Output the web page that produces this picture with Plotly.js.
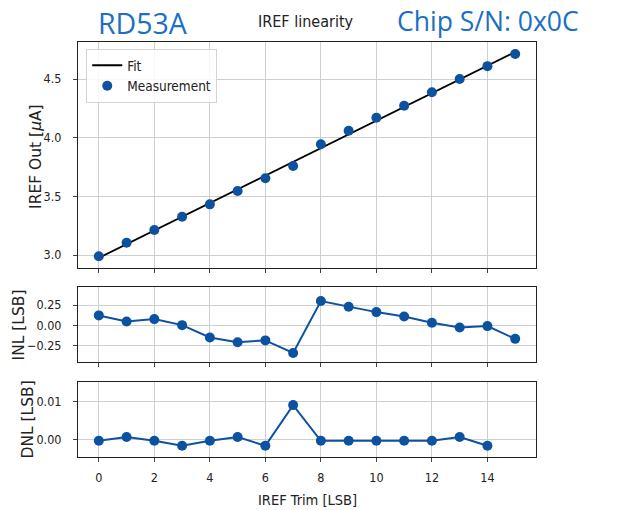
<!DOCTYPE html>
<html>
<head>
<meta charset="utf-8">
<script src="https://cdn.plot.ly/plotly-3.0.1.min.js"></script>
<style>
  html, body { margin: 0; padding: 0; background: #ffffff; }
  #chart { width: 619px; height: 510px; }
</style>
</head>
<body>
<div id="chart"></div>
<script>
// IREF trim scan: DAC code, measured current, fit, INL and DNL
const trimCodes = [0, 1, 2, 3, 4, 5, 6, 7, 8, 9, 10, 11, 12, 13, 14, 15];
const irefOut   = [2.990, 3.105, 3.213, 3.327, 3.432, 3.546, 3.654, 3.759,
                   3.944, 4.060, 4.170, 4.273, 4.387, 4.500, 4.610, 4.713];
const irefErr   = [0.008, 0.008, 0.008, 0.008, 0.008, 0.008, 0.008, 0.008,
                   0.008, 0.008, 0.008, 0.008, 0.008, 0.008, 0.008, 0.008];
// linear fit evaluated at the first and last trim code
const fitCodes  = [0, 15];
const fitValues = [2.976, 4.730];
const inl       = [0.121, 0.045, 0.075, 0.000, -0.154, -0.212, -0.190, -0.346,
                   0.300, 0.229, 0.162, 0.108, 0.029, -0.029, -0.012, -0.171];
const dnlCodes  = [0, 1, 2, 3, 4, 5, 6, 7, 8, 9, 10, 11, 12, 13, 14];
const dnl       = [-0.0004, 0.0006, -0.0004, -0.0017, -0.0004, 0.0006, -0.0017, 0.0090,
                   -0.0004, -0.0004, -0.0004, -0.0004, -0.0004, 0.0006, -0.0017];
const xTicks    = [0, 2, 4, 6, 8, 10, 12, 14];

const blue = '#0d52a0';
const condensed = 'DejaVu Sans Condensed, DejaVu Sans, sans-serif';
const tickFont = { family: condensed, size: 12.5, color: '#222222' };
const labelFont = { family: 'DejaVu Sans, sans-serif', size: 15.5, color: '#222222' };
const slideBlue = '#1b6fc4';

function xAxis(anchor, showLabels) {
  return {
    anchor: anchor,
    domain: [0, 1],
    range: [-0.75, 15.75],
    tickmode: 'array',
    tickvals: xTicks,
    showticklabels: showLabels,
    ticks: 'outside', ticklen: 4, tickcolor: '#444444',
    ticklabelstandoff: 5,
    showline: true, mirror: true, linecolor: '#222222', linewidth: 1,
    showgrid: true, gridcolor: '#cfcfcf', gridwidth: 1,
    zeroline: false,
    tickfont: tickFont
  };
}
function yAxis(anchor, domain, range, ticks, fmt) {
  return {
    anchor: anchor,
    domain: domain,
    range: range,
    tickmode: 'array',
    tickvals: ticks,
    tickformat: fmt,
    ticks: 'outside', ticklen: 4, tickcolor: '#444444',
    ticklabelstandoff: 9,
    showline: true, mirror: true, linecolor: '#222222', linewidth: 1,
    showgrid: true, gridcolor: '#cfcfcf', gridwidth: 1,
    zeroline: false,
    tickfont: tickFont
  };
}

const traces = [
  {
    name: 'Fit', x: fitCodes, y: fitValues, xaxis: 'x', yaxis: 'y',
    type: 'scatter', mode: 'lines',
    line: { color: '#000000', width: 1.8 }
  },
  {
    name: 'Measurement', x: trimCodes, y: irefOut, xaxis: 'x', yaxis: 'y',
    type: 'scatter', mode: 'markers',
    marker: { color: blue, size: 10 },
    error_y: { type: 'data', array: irefErr, visible: true, color: blue, thickness: 2, width: 0 }
  },
  {
    x: trimCodes, y: inl, xaxis: 'x2', yaxis: 'y2', showlegend: false,
    type: 'scatter', mode: 'lines+markers',
    line: { color: blue, width: 2 },
    marker: { color: blue, size: 10 }
  },
  {
    x: dnlCodes, y: dnl, xaxis: 'x3', yaxis: 'y3', showlegend: false,
    type: 'scatter', mode: 'lines+markers',
    line: { color: blue, width: 2 },
    marker: { color: blue, size: 10 }
  }
];

const layout = {
  width: 619, height: 510,
  margin: { l: 78, r: 83, t: 0, b: 0 },
  paper_bgcolor: '#ffffff', plot_bgcolor: '#ffffff',
  showlegend: true,
  legend: {
    x: 0.018, y: 0.904, xanchor: 'left', yanchor: 'top',
    bgcolor: 'rgba(255,255,255,0.85)', bordercolor: '#d4d4d4', borderwidth: 1,
    font: { family: condensed, size: 13.5, color: '#222222' }
  },
  xaxis: xAxis('y', false),
  xaxis2: xAxis('y2', false),
  xaxis3: xAxis('y3', true),
  yaxis: yAxis('x', [0.4739, 0.9182], [2.887, 4.818], [3.0, 3.5, 4.0, 4.5], '.1f'),
  yaxis2: yAxis('x2', [0.2908, 0.4367], [-0.455, 0.471], [-0.25, 0, 0.25], '.2f'),
  yaxis3: yAxis('x3', [0.1033, 0.2516], [-0.00474, 0.01516], [0, 0.01], '.2f'),
  annotations: [
    { text: 'IREF linearity', xref: 'paper', yref: 'paper', x: 0.498, y: 0.957,
      xanchor: 'center', yanchor: 'middle', showarrow: false,
      font: { family: condensed, size: 16, color: '#222222' } },
    { text: 'RD53A', xref: 'paper', yref: 'paper', x: 0.0395, y: 0.955,
      xanchor: 'left', yanchor: 'middle', showarrow: false,
      font: { family: 'Open Sans, sans-serif', size: 28.5, color: slideBlue } },
    { text: 'Chip S/N: 0x0C', xref: 'paper', yref: 'paper', x: 0.692, y: 0.959,
      xanchor: 'left', yanchor: 'middle', showarrow: false,
      font: { family: 'Open Sans, sans-serif', size: 26.5, color: slideBlue } },
    { text: 'IREF Out [<i>μ</i>A]', xref: 'paper', yref: 'paper', x: -0.092, y: 0.694,
      xanchor: 'center', yanchor: 'middle', textangle: -90, showarrow: false, font: labelFont },
    { text: 'INL [LSB]', xref: 'paper', yref: 'paper', x: -0.129, y: 0.3637,
      xanchor: 'center', yanchor: 'middle', textangle: -90, showarrow: false, font: labelFont },
    { text: 'DNL [LSB]', xref: 'paper', yref: 'paper', x: -0.109, y: 0.1775,
      xanchor: 'center', yanchor: 'middle', textangle: -90, showarrow: false, font: labelFont },
    { text: 'IREF Trim [LSB]', xref: 'paper', yref: 'paper', x: 0.5, y: 0.0196,
      xanchor: 'center', yanchor: 'middle', showarrow: false,
      font: { family: condensed, size: 14.5, color: '#222222' } }
  ]
};

Plotly.newPlot('chart', traces, layout, { displayModeBar: false, staticPlot: true });
</script>
</body>
</html>
